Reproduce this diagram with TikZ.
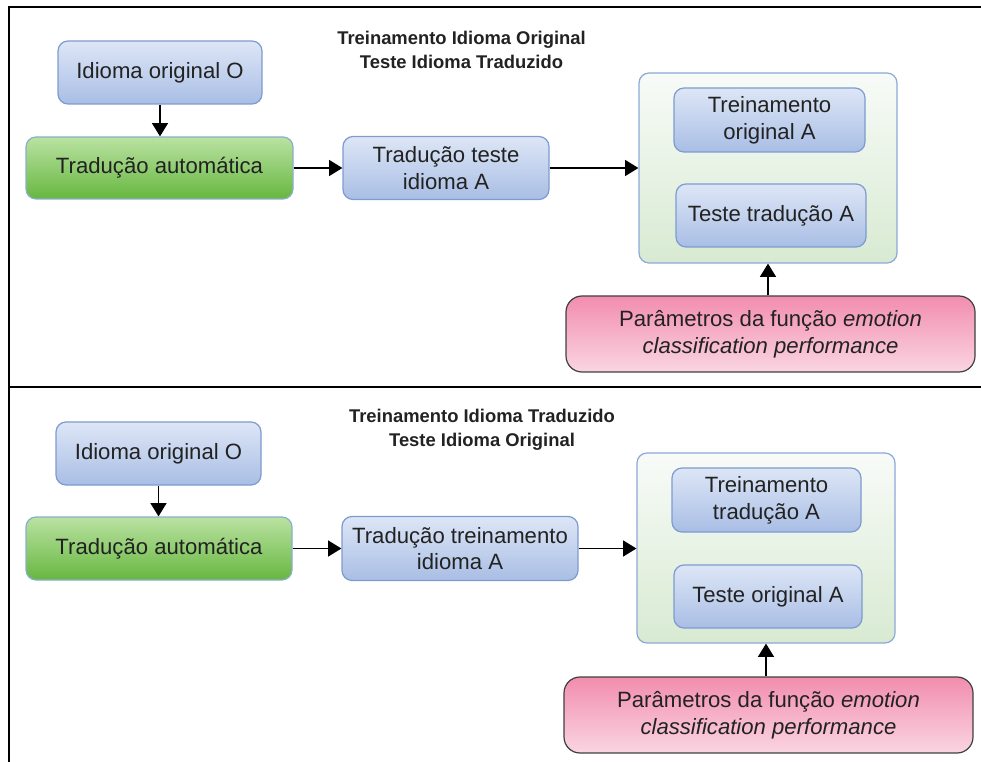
\documentclass[tikz,border=0pt]{standalone}
\usepackage{fontspec}
\setmainfont{Liberation Sans}
\usetikzlibrary{arrows.meta}
\definecolor{bluetop}{HTML}{DDE6F6}
\definecolor{bluebot}{HTML}{A9BEE5}
\definecolor{blueline}{HTML}{7E9BCF}
\definecolor{greentop}{HTML}{BAE2A2}
\definecolor{greenbot}{HTML}{67B740}
\definecolor{greenline}{HTML}{8AAFC8}
\definecolor{pinktop}{HTML}{F28DAE}
\definecolor{pinkbot}{HTML}{FAD5E2}
\definecolor{pinkline}{HTML}{404040}
\definecolor{conttop}{HTML}{F8FBF8}
\definecolor{contbot}{HTML}{D8EAD2}
\definecolor{contline}{HTML}{8DA8D8}
\definecolor{txt}{HTML}{222222}
\begin{document}
\begin{tikzpicture}[x=0.75pt,y=-0.75pt,
  box/.style={rounded corners=7.5pt, line width=0.9pt, inner sep=0pt, align=center,
    font=\fontsize{16.6}{20}\selectfont, text=txt},
  bluebox/.style={box, draw=blueline, top color=bluetop, bottom color=bluebot},
  greenbox/.style={box, draw=greenline, top color=greentop, bottom color=greenbot},
  pinkbox/.style={box, draw=pinkline, top color=pinktop, bottom color=pinkbot, rounded corners=12pt},
  contbox/.style={box, draw=contline, top color=conttop, bottom color=contbot},
  title/.style={align=center, inner sep=0pt, font=\bfseries\fontsize{13.8}{18}\selectfont, text=txt},
  arr/.style={-{Triangle[width=12pt,length=10pt]}, line width=1.1pt, black},
  frame/.style={line width=1.6pt, black}]
\useasboundingbox (0,0) rectangle (981,762);
% frame
\draw[frame] (981,7) -- (9,7) -- (9,762);
\draw[frame] (9,387) -- (981,387);

% ---------- top panel ----------
\node[title] (tt1) at (461.5,50) {Treinamento Idioma Original\\Teste Idioma Traduzido};
\node[bluebox, minimum width=153pt, minimum height=47.25pt] (o1) at (160,72.5) {Idioma original O};
\node[greenbox, minimum width=200.25pt, minimum height=46.5pt] (t1) at (159.5,168) {Tradução automática};
\node[bluebox, minimum width=154.5pt, minimum height=47.25pt] (m1) at (446,168) {Tradução teste\\idioma A};
\node[contbox, minimum width=193.5pt, minimum height=142.5pt] (c1) at (768,168) {};
\node[bluebox, minimum width=143.25pt, minimum height=48pt] (a1) at (769.5,120) {Treinamento\\original A};
\node[bluebox, minimum width=142.5pt, minimum height=47.25pt] (b1) at (771,215.5) {Teste tradução A};
\node[pinkbox, minimum width=306.75pt, minimum height=57pt] (p1) at (770.5,334) {Parâmetros da função \textit{emotion}\\\textit{classification performance}};
\draw[arr] (o1.south) -- (o1.south |- t1.north);
\draw[arr] (t1.east) -- (t1.east -| m1.west);
\draw[arr] (m1.east) -- (m1.east -| c1.west);
\draw[arr] (c1.south |- p1.north) -- (c1.south);

% ---------- bottom panel ----------
\node[title] (tt2) at (482,430) {Treinamento Idioma Traduzido\\Teste Idioma Original};
\node[bluebox, minimum width=153.75pt, minimum height=47.25pt] (o2) at (158.5,453.5) {Idioma original O};
\node[greenbox, minimum width=199.5pt, minimum height=47.25pt] (t2) at (159,548.5) {Tradução automática};
\node[bluebox, minimum width=177pt, minimum height=48pt] (m2) at (460,548.5) {Tradução treinamento\\idioma A};
\node[contbox, minimum width=193.5pt, minimum height=142.5pt] (c2) at (766,548) {};
\node[bluebox, minimum width=141.75pt, minimum height=48pt] (a2) at (766.5,500) {Treinamento\\tradução A};
\node[bluebox, minimum width=141pt, minimum height=47.25pt] (b2) at (768,596.5) {Teste original A};
\node[pinkbox, minimum width=306.75pt, minimum height=57pt] (p2) at (768.5,715) {Parâmetros da função \textit{emotion}\\\textit{classification performance}};
\draw[arr] (o2.south) -- (o2.south |- t2.north);
\draw[arr] (t2.east) -- (t2.east -| m2.west);
\draw[arr] (m2.east) -- (m2.east -| c2.west);
\draw[arr] (c2.south |- p2.north) -- (c2.south);
\end{tikzpicture}
\end{document}
